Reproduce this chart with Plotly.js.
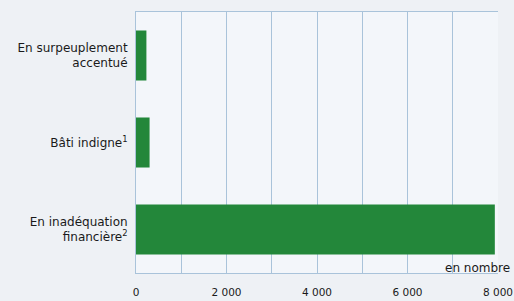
<!DOCTYPE html>
<html>
<head>
<meta charset="utf-8">
<script src="https://cdn.plot.ly/plotly-3.0.1.min.js"></script>
<style>
html,body{margin:0;padding:0;background:#eef1f5;}
#chart{width:514px;height:301px;}
</style>
</head>
<body>
<div id="chart"></div>
<script>
var categories = ["En surpeuplement<br>accentué", "Bâti indigne<sup>1</sup>", "En inadéquation<br>financière<sup>2</sup>"];
var values = [230, 300, 7930];
var tickValues = [0, 2000, 4000, 6000, 8000];
var tickLabels = ["0", "2 000", "4 000", "6 000", "8 000"];
var gridStep = 1000;
var unitLabel = "en nombre";

var trace = {
  type: "bar",
  orientation: "h",
  y: categories,
  x: values,
  marker: {color: "#23873a", line: {width: 0}},
  hoverinfo: "none"
};

var layout = {
  width: 514,
  height: 301,
  margin: {l: 136, r: 16, t: 12, b: 28, pad: 0},
  paper_bgcolor: "#eef1f5",
  plot_bgcolor: "#f3f6fa",
  bargap: 0.425,
  showlegend: false,
  font: {family: "DejaVu Sans", size: 12, color: "#222"},
  xaxis: {
    range: [0, 8000],
    tickvals: tickValues,
    ticktext: tickLabels,
    showgrid: true,
    gridcolor: "#a9c3da",
    gridwidth: 1,
    minor: {dtick: gridStep, tick0: 0, showgrid: true, gridcolor: "#a9c3da", gridwidth: 1, ticks: ""},
    zeroline: false,
    showline: true,
    linecolor: "#a9c3da",
    linewidth: 1,
    mirror: true,
    ticks: "",
    ticklabelstandoff: 9,
    ticklabeloverflow: "allow",
    tickfont: {family: "DejaVu Sans", size: 10.5, color: "#1a1a1a"},
    fixedrange: true
  },
  yaxis: {
    type: "category",
    categoryorder: "array",
    categoryarray: categories,
    autorange: "reversed",
    showgrid: false,
    zeroline: false,
    showline: true,
    linecolor: "#a9c3da",
    linewidth: 1,
    ticks: "",
    ticklabelstandoff: 5,
    tickfont: {family: "DejaVu Sans", size: 12, color: "#1a1a1a"},
    fixedrange: true
  },
  annotations: [{
    text: unitLabel,
    xref: "paper", yref: "paper",
    x: 1.04, y: 0.0,
    xanchor: "right", yanchor: "bottom",
    yshift: -4,
    showarrow: false,
    font: {family: "DejaVu Sans", size: 12, color: "#1a1a1a"}
  }]
};

Plotly.newPlot("chart", [trace], layout, {staticPlot: true, displayModeBar: false});
</script>
</body>
</html>
